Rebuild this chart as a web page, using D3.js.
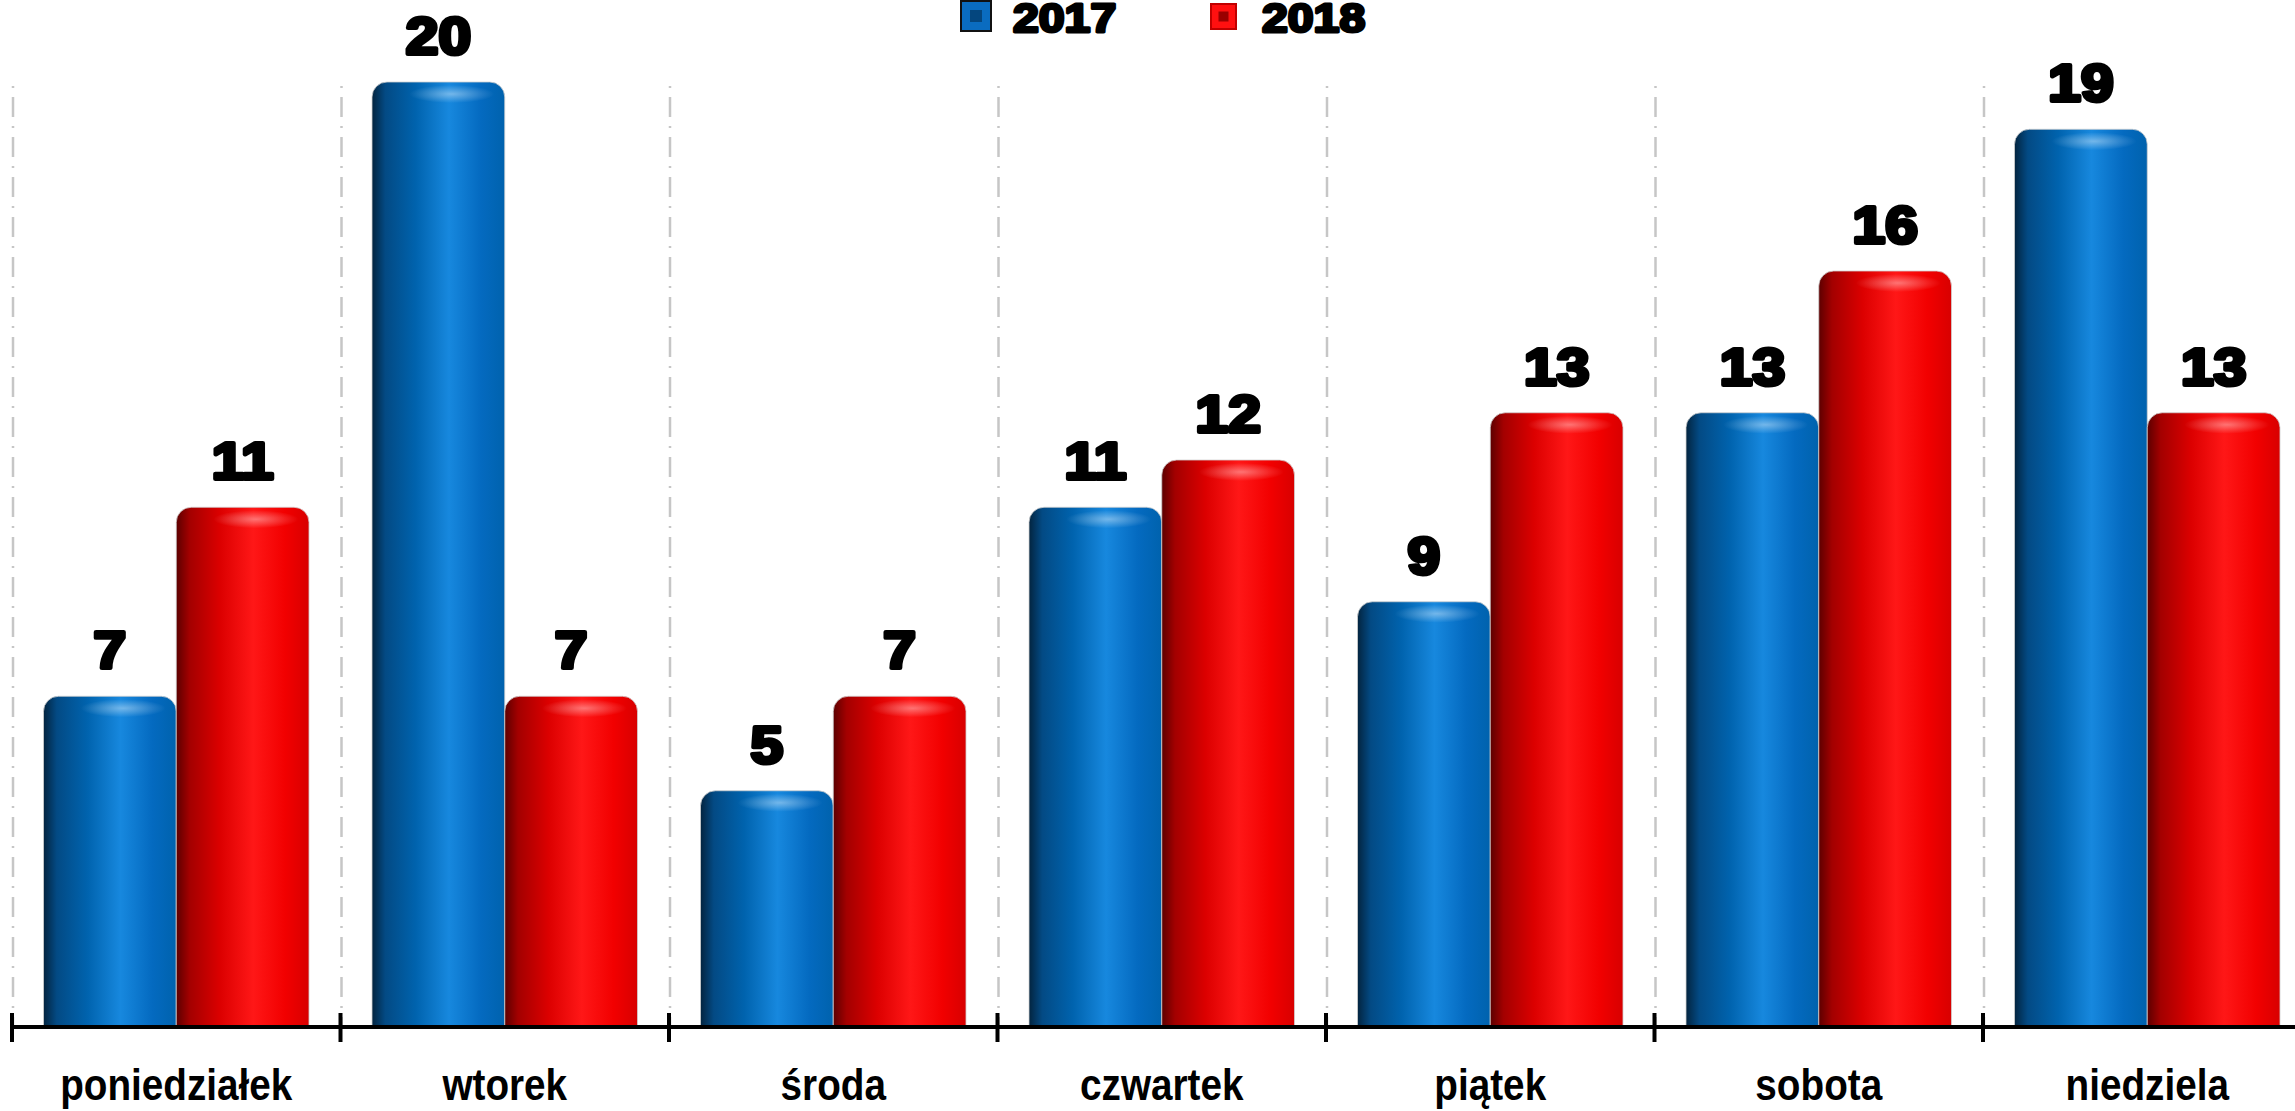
<!DOCTYPE html>
<meta charset="utf-8">
<script src="https://d3js.org/d3.v7.min.js"></script>
<style>
    body { margin: 0; background: #fff; }
    .value { font-family: "Liberation Sans", Arial, sans-serif; font-weight: bold; fill: #000;
             stroke: #000; stroke-width: 4px; paint-order: stroke; stroke-linejoin: round; }
    .cat { font-family: "Liberation Sans", Arial, sans-serif;
           font-weight: bold; font-size: 45px; fill: #000; }
</style>
<div id="my_dataviz"></div>
<script>

    // data
    var days = ["poniedziałek", "wtorek", "środa", "czwartek", "piątek", "sobota", "niedziela"];
    var series = ["2017", "2018"];
    var values2017 = [7, 20, 5, 11, 9, 13, 19];
    var values2018 = [11, 7, 7, 12, 13, 16, 13];

    var W = 2295, H = 1111;
    var axisY = 1027;

    var svg = d3.select("#my_dataviz")
        .append("svg")
        .attr("width", W)
        .attr("height", H);

    var defs = svg.append("defs");

    // cylinder shading for each series
    var shades = {
        "2017": [["0%", "#03243f"], ["10%", "#034a84"], ["33%", "#0063ae"], ["58%", "#1788de"], ["82%", "#046ac0"], ["100%", "#0062ad"]],
        "2018": [["0%", "#5c0000"], ["10%", "#a30000"], ["33%", "#dc0000"], ["58%", "#ff1717"], ["82%", "#f20000"], ["100%", "#d80000"]]
    };
    series.forEach(function (s) {
        var g = defs.append("linearGradient").attr("id", "grad" + s)
            .attr("x1", "0%").attr("x2", "100%").attr("y1", "0%").attr("y2", "0%");
        shades[s].forEach(function (st) {
            g.append("stop").attr("offset", st[0]).attr("stop-color", st[1]);
        });
    });
    var hl = defs.append("radialGradient").attr("id", "topLight");
    hl.append("stop").attr("offset", "0%").attr("stop-color", "#fff").attr("stop-opacity", 0.4);
    hl.append("stop").attr("offset", "100%").attr("stop-color", "#fff").attr("stop-opacity", 0);

    // scales
    var step = 328.5;
    var x = d3.scaleBand()
        .domain(days)
        .range([12, 12 + step * days.length]);

    var xs = d3.scaleBand()
        .domain(series)
        .range([31.5, step - 31.5]);

    var y = d3.scaleLinear()
        .domain([0, 20])
        .range([axisY, 82]);

    // dash-dot grid lines at category boundaries
    svg.append("g")
        .selectAll("line")
        .data(days)
        .enter()
        .append("line")
        .attr("x1", function (d) { return x(d) + 1; })
        .attr("x2", function (d) { return x(d) + 1; })
        .attr("y1", 86)
        .attr("y2", axisY)
        .attr("stroke", "#c6c6c6")
        .attr("stroke-width", 2.5)
        .attr("stroke-dasharray", "2,9,20,9");

    var rows = [];
    days.forEach(function (d, i) {
        rows.push({day: d, s: "2017", v: values2017[i]});
        rows.push({day: d, s: "2018", v: values2018[i]});
    });

    function barPath(x0, y0, w, h, r) {
        return "M" + x0 + "," + (y0 + h) +
            "V" + (y0 + r) +
            "A" + r + "," + r + " 0 0 1 " + (x0 + r) + "," + y0 +
            "H" + (x0 + w - r) +
            "A" + r + "," + r + " 0 0 1 " + (x0 + w) + "," + (y0 + r) +
            "V" + (y0 + h) + "Z";
    }

    var bars = svg.append("g")
        .selectAll("g")
        .data(rows)
        .enter()
        .append("g");

    bars.append("path")
        .attr("d", function (d) {
            return barPath(x(d.day) + xs(d.s), y(d.v), xs.bandwidth(), axisY - y(d.v), 15);
        })
        .attr("fill", function (d) { return "url(#grad" + d.s + ")"; })
        .attr("stroke", "#d0d0d0")
        .attr("stroke-width", 0.8);

    // soft highlight near the rounded top
    bars.append("ellipse")
        .attr("cx", function (d) { return x(d.day) + xs(d.s) + xs.bandwidth() * 0.6; })
        .attr("cy", function (d) { return y(d.v) + 12; })
        .attr("rx", xs.bandwidth() * 0.32)
        .attr("ry", 9)
        .attr("fill", "url(#topLight)");

    // value labels
    bars.append("text")
        .attr("class", "value")
        .attr("text-anchor", "middle")
        .attr("font-size", 51)
        .attr("transform", function (d) {
            return "translate(" + (x(d.day) + xs(d.s) + xs.bandwidth() / 2) + "," + (y(d.v) - 28) + ") scale(1.15,1)";
        })
        .text(function (d) { return d.v; });

    // x axis
    svg.append("line")
        .attr("x1", 10).attr("x2", W)
        .attr("y1", axisY).attr("y2", axisY)
        .attr("stroke", "#000").attr("stroke-width", 4);

    svg.append("g")
        .selectAll("line")
        .data(days)
        .enter()
        .append("line")
        .attr("x1", function (d) { return x(d); })
        .attr("x2", function (d) { return x(d); })
        .attr("y1", 1013).attr("y2", 1042)
        .attr("stroke", "#000").attr("stroke-width", 4);

    // category names, squeezed to look like a narrow face
    svg.append("g")
        .selectAll("text")
        .data(days)
        .enter()
        .append("text")
        .attr("class", "cat")
        .attr("text-anchor", "middle")
        .attr("transform", function (d) {
            return "translate(" + (x(d) + x.bandwidth() / 2) + ",1100) scale(0.86,1)";
        })
        .text(function (d) { return d; });

    // legend
    var legend = [
        {s: "2017", bx: 961, by: 1, size: 30, tx: 1013, base: "#0a6cc0", dark: "#04467e", border: "#111"},
        {s: "2018", bx: 1211, by: 4, size: 25, tx: 1262, base: "#ff1010", dark: "#9a0000", border: "#c00000"}
    ];
    var lg = svg.append("g")
        .selectAll("g")
        .data(legend)
        .enter()
        .append("g");

    lg.append("rect")
        .attr("x", function (d) { return d.bx; })
        .attr("y", function (d) { return d.by; })
        .attr("width", function (d) { return d.size; })
        .attr("height", function (d) { return d.size; })
        .attr("fill", function (d) { return d.base; })
        .attr("stroke", function (d) { return d.border; })
        .attr("stroke-width", 2);

    lg.append("rect")
        .attr("x", function (d) { return d.bx + d.size * 0.3; })
        .attr("y", function (d) { return d.by + d.size * 0.3; })
        .attr("width", function (d) { return d.size * 0.4; })
        .attr("height", function (d) { return d.size * 0.4; })
        .attr("fill", function (d) { return d.dark; });

    lg.append("text")
        .attr("class", "value")
        .attr("font-size", 40)
        .style("stroke-width", "3px")
        .attr("transform", function (d) { return "translate(" + d.tx + ",32) scale(1.16,1)"; })
        .text(function (d) { return d.s; });

</script>
